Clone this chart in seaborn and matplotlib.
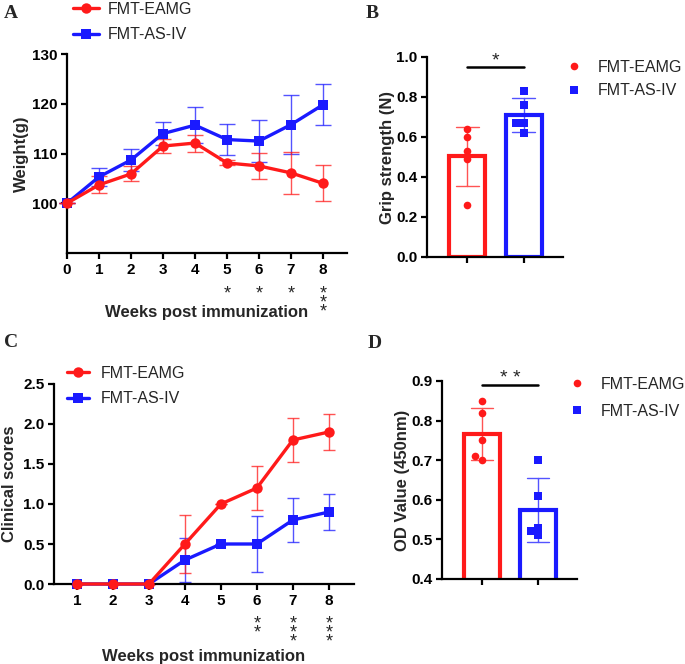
import numpy as np
import pandas as pd
import seaborn as sns
import matplotlib.pyplot as plt
import matplotlib.transforms as mtransforms
from matplotlib.lines import Line2D

# ---------------------------------------------------------
# data
# ---------------------------------------------------------
groups = ["FMT-EAMG", "FMT-AS-IV"]
colors = {"FMT-EAMG": "#ff1a1a", "FMT-AS-IV": "#1a1aff"}
markers = {"FMT-EAMG": "o", "FMT-AS-IV": "s"}

# A - body weight
weeks_a = [0, 1, 2, 3, 4, 5, 6, 7, 8]
eamg_weight = [100, 103.7, 105.9, 111.5, 112.1, 108.1, 107.5, 106.1, 104.0]
eamg_weight_err = [0.0, 1.7, 1.5, 1.4, 1.7, 0.5, 2.6, 4.3, 3.6]
asiv_weight = [100, 105.3, 108.7, 114.0, 115.7, 112.8, 112.5, 115.8, 119.8]
asiv_weight_err = [0.0, 1.8, 2.2, 2.3, 3.6, 3.1, 4.2, 5.9, 4.1]
stars_a = {5: 1, 6: 1, 7: 1, 8: 3}

# B - grip strength (individual animals)
grip_eamg = [0.64, 0.60, 0.53, 0.49, 0.26]
grip_asiv = [0.83, 0.76, 0.67, 0.67, 0.62]
sig_b = ("*", 0.95)

# C - clinical scores
weeks_c = [1, 2, 3, 4, 5, 6, 7, 8]
eamg_score = [0, 0, 0, 0.5, 1.0, 1.2, 1.8, 1.9]
eamg_score_err = [0, 0, 0, 0.36, 0.0, 0.28, 0.27, 0.22]
asiv_score = [0, 0, 0, 0.3, 0.5, 0.5, 0.8, 0.9]
asiv_score_err = [0, 0, 0, 0.27, 0.0, 0.35, 0.27, 0.22]
stars_c = {6: 2, 7: 3, 8: 3}

# D - OD value (individual animals)
od_eamg = [0.85, 0.82, 0.75, 0.70, 0.71]
od_asiv = [0.70, 0.61, 0.53, 0.51, 0.52]
sig_d = ("* *", 0.89)

# ---------------------------------------------------------
# style
# ---------------------------------------------------------
sns.set_theme(style="ticks")
plt.rcParams["font.family"] = ["Liberation Sans", "DejaVu Sans"]
plt.rcParams["axes.linewidth"] = 1.6
plt.rcParams["xtick.major.width"] = 1.6
plt.rcParams["ytick.major.width"] = 1.6
plt.rcParams["xtick.major.size"] = 4
plt.rcParams["ytick.major.size"] = 4
plt.rcParams["axes.edgecolor"] = "black"

W, H = 685, 664
fig = plt.figure(figsize=(W / 100, H / 100), dpi=100)


def px_axes(left, top, right, bottom):
    return fig.add_axes([left / W, 1 - bottom / H, (right - left) / W, (bottom - top) / H])


def style_axes(ax, ylabel, ylab_x):
    sns.despine(ax=ax)
    ax.set_ylabel(ylabel, fontsize=12, fontweight="bold")
    ax.yaxis.label.set_va("center")
    ax.yaxis.set_label_coords(ylab_x, 0.5)
    for lab in ax.get_xticklabels() + ax.get_yticklabels():
        lab.set_fontweight("bold")
        lab.set_fontsize(11)
    ax.tick_params(colors="black", pad=3)


def legend_handles(with_line):
    hs = []
    for g in groups:
        if with_line:
            hs.append(Line2D([], [], color=colors[g], lw=2.4, marker=markers[g],
                             markersize=7.5, markeredgewidth=0))
        else:
            hs.append(Line2D([], [], color=colors[g], lw=0, marker=markers[g],
                             markersize=5.5, markeredgewidth=0))
    return hs


def line_panel(ax, x, ys, errs, capsize):
    # blue first so red sits on top
    for i in [1, 0]:
        g = groups[i]
        ax.errorbar(x, ys[i], yerr=errs[i], fmt="none", ecolor=colors[g],
                    elinewidth=1.0, capsize=capsize, capthick=1.0, alpha=0.75,
                    zorder=2, clip_on=False)
        sns.lineplot(x=x, y=ys[i], ax=ax, color=colors[g], linewidth=2.4,
                     marker=markers[g], markersize=7.5 if i == 0 else 7,
                     markeredgewidth=0, zorder=3, clip_on=False)


def stars_below(ax, stars, first_px):
    # one stacked text per week, top star centred first_px below the x axis
    base = mtransforms.blended_transform_factory(ax.transData, ax.transAxes)
    tr = mtransforms.offset_copy(base, fig=fig, x=0, y=-(first_px - 6), units="dots")
    for wk, n in stars.items():
        ax.text(wk, 0, "\n".join(["*"] * n), transform=tr, ha="center",
                va="top", fontsize=13, linespacing=0.42)


def bar_panel(ax, vals, ylim, yticks, sig, capsize):
    df = pd.DataFrame({
        "group": [groups[0]] * len(vals[0]) + [groups[1]] * len(vals[1]),
        "value": list(vals[0]) + list(vals[1]),
    })
    sns.barplot(data=df, x="group", y="value", hue="group", order=groups,
                palette=colors, fill=False, errorbar="sd", capsize=capsize,
                width=0.64, linewidth=3.0, err_kws={"linewidth": 1.0, "alpha": 0.75},
                legend=False, ax=ax)
    for g in groups:
        sns.swarmplot(data=df[df.group == g], x="group", y="value", order=groups,
                      color=colors[g], marker=markers[g], size=5.5, ax=ax, zorder=4)
    ax.set_ylim(*ylim)
    ax.set_yticks(yticks)
    ax.set_xlim(-0.72, 1.7)
    ax.set_xticks([0, 1])
    ax.set_xticklabels(["", ""])
    ax.set_xlabel("")
    ax.plot([0, 1], [sig[1], sig[1]], color="black", lw=1.8, clip_on=False)
    tr = mtransforms.offset_copy(ax.transData, fig=fig, x=0, y=6, units="dots")
    ax.text(0.5, sig[1], sig[0], transform=tr, ha="center", va="center",
            fontsize=14)


# ---------------------------------------------------------
# A
# ---------------------------------------------------------
axA = px_axes(67, 54, 347, 253)
line_panel(axA, weeks_a, [eamg_weight, asiv_weight],
           [eamg_weight_err, asiv_weight_err], capsize=6)
axA.set_xlim(0, 8.75)
axA.set_ylim(90, 130)
axA.set_xticks(weeks_a)
axA.set_yticks([100, 110, 120, 130])
axA.set_xlabel("Weeks post immunization", fontsize=12, fontweight="bold")
axA.xaxis.label.set_va("center")
axA.xaxis.set_label_coords(0.5, -0.30)
style_axes(axA, "Weight(g)", -0.161)
stars_below(axA, stars_a, 38)
axA.legend(legend_handles(True), groups, loc="center left",
           bbox_to_anchor=(73 / W, 1 - 22 / H),
           bbox_transform=fig.transFigure, frameon=False, fontsize=11.5,
           handlelength=1.6, handletextpad=0.55, labelspacing=0.65,
           borderpad=0, borderaxespad=0)

# ---------------------------------------------------------
# B
# ---------------------------------------------------------
axB = px_axes(427, 57, 563, 257)
bar_panel(axB, [grip_eamg, grip_asiv], (0, 1.0),
          [0.0, 0.2, 0.4, 0.6, 0.8, 1.0], sig_b, capsize=0.4)
axB.yaxis.set_major_formatter(plt.FormatStrFormatter("%.1f"))
style_axes(axB, "Grip strength (N)", -0.287)
axB.legend(legend_handles(False), groups, loc="center left",
           bbox_to_anchor=(566 / W, 1 - 79 / H),
           bbox_transform=fig.transFigure, frameon=False, fontsize=11.5,
           handlelength=1.0, handletextpad=1.0, labelspacing=0.55,
           borderpad=0, borderaxespad=0)

# ---------------------------------------------------------
# C
# ---------------------------------------------------------
axC = px_axes(54, 384, 354, 584)
line_panel(axC, weeks_c, [eamg_score, asiv_score],
           [eamg_score_err, asiv_score_err], capsize=4.5)
axC.set_xlim(0.36, 8.7)
axC.set_ylim(0, 2.5)
axC.set_xticks(weeks_c)
axC.set_yticks([0, 0.5, 1.0, 1.5, 2.0, 2.5])
axC.yaxis.set_major_formatter(plt.FormatStrFormatter("%.1f"))
axC.set_xlabel("Weeks post immunization", fontsize=12, fontweight="bold")
axC.xaxis.label.set_va("center")
axC.xaxis.set_label_coords(0.5, -0.36)
style_axes(axC, "Clinical scores", -0.147)
stars_below(axC, stars_c, 37)
axC.legend(legend_handles(True), groups, loc="center left",
           bbox_to_anchor=(67 / W, 1 - 386 / H),
           bbox_transform=fig.transFigure, frameon=False, fontsize=11.5,
           handlelength=1.35, handletextpad=0.75, labelspacing=0.65,
           borderpad=0, borderaxespad=0)

# ---------------------------------------------------------
# D
# ---------------------------------------------------------
axD = px_axes(442, 381, 577, 579)
bar_panel(axD, [od_eamg, od_asiv], (0.4, 0.9),
          [0.4, 0.5, 0.6, 0.7, 0.8, 0.9], sig_d, capsize=0.4)
axD.yaxis.set_major_formatter(plt.FormatStrFormatter("%.1f"))
style_axes(axD, "OD Value (450nm)", -0.289)
axD.legend(legend_handles(False), groups, loc="center left",
           bbox_to_anchor=(569 / W, 1 - 398 / H),
           bbox_transform=fig.transFigure, frameon=False, fontsize=11.5,
           handlelength=1.0, handletextpad=1.0, labelspacing=0.75,
           borderpad=0, borderaxespad=0)

# panel letters
for letter, x, y in [("A", 4, 18), ("B", 366, 18), ("C", 4, 347), ("D", 368, 348)]:
    fig.text(x / W, 1 - y / H, letter, fontsize=14, fontweight="bold",
             family="Liberation Serif", ha="left", va="baseline")

fig.savefig("out.png", dpi=100)
